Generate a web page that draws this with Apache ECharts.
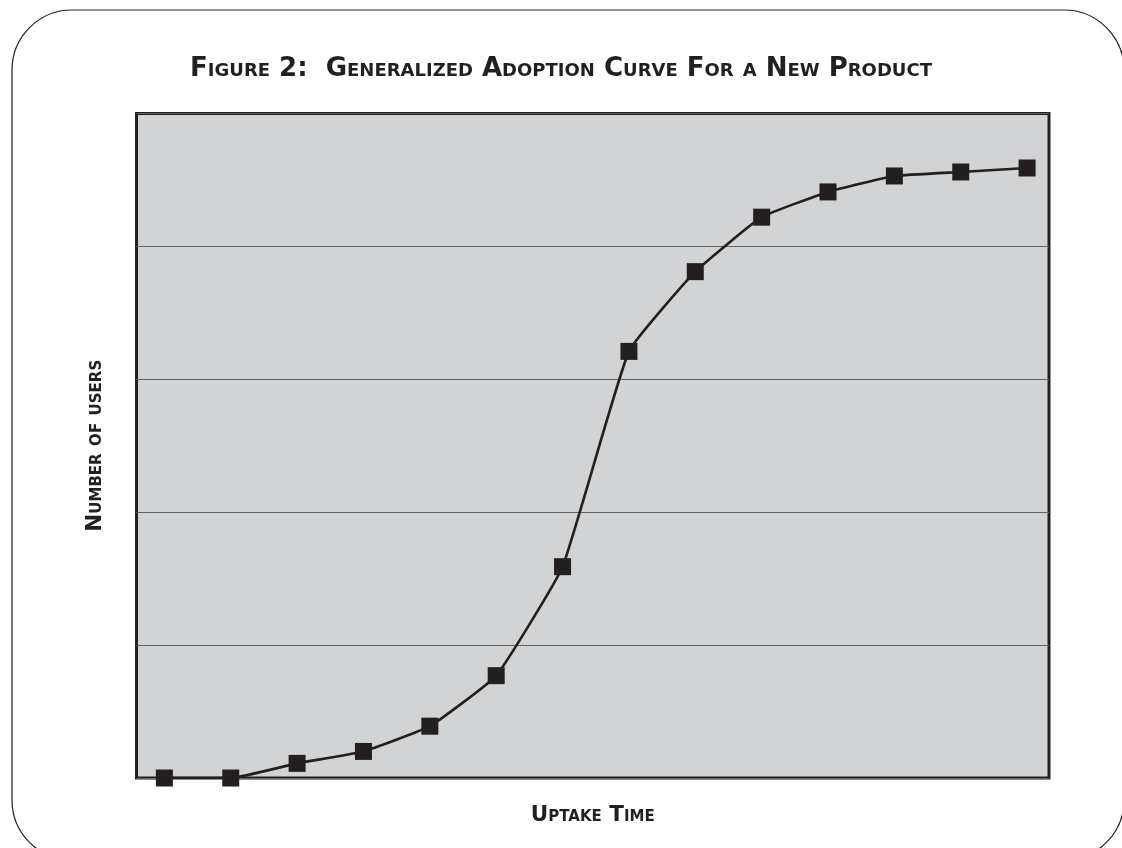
<!DOCTYPE html>
<html>
<head>
<meta charset="utf-8">
<title>Generalized Adoption Curve</title>
<script src="https://cdn.jsdelivr.net/npm/echarts@6/dist/echarts.min.js"></script>
<style>
  html, body { margin: 0; padding: 0; background: #ffffff; }
  #chart { width: 1122px; height: 848px; }
</style>
</head>
<body>
<div id="chart"></div>
<script>
// Time periods along the uptake axis
const periods = [1, 2, 3, 4, 5, 6, 7, 8, 9, 10, 11, 12, 13, 14];
// Cumulative number of users in each period (arbitrary units, axis 0-5)
const users = [0, 0, 0.11, 0.20, 0.39, 0.77, 1.59, 3.21, 3.81, 4.22, 4.41, 4.53, 4.56, 4.59];

const titleText = 'Figure 2:  Generalized Adoption Curve For a New Product';
const xName = 'Uptake Time';
const yName = 'Number of users';

const ink = '#231f20';
const fontFam = '"DejaVu Sans", "Open Sans", sans-serif';

const chart = echarts.init(document.getElementById('chart'), null, { renderer: 'canvas' });

chart.setOption({
  backgroundColor: '#ffffff',
  animation: false,
  title: {
    text: titleText,
    left: 'center',
    top: 51,
    textStyle: {
      color: ink,
      fontFamily: fontFam,
      fontStyle: 'small-caps',
      fontWeight: 'bold',
      fontSize: 26
    }
  },
  graphic: [{
    type: 'rect',
    silent: true,
    z: -1,
    shape: { x: 12, y: 10, width: 1112, height: 850, r: 60 },
    style: { fill: 'none', stroke: ink, lineWidth: 1.2 }
  }],
  grid: {
    show: true,
    left: 136.5,
    right: 73,
    top: 113.5,
    bottom: 70,
    backgroundColor: '#d1d3d4',
    borderColor: ink,
    borderWidth: 3
  },
  xAxis: {
    type: 'value',
    min: 0.58,
    max: 14.33,
    name: xName,
    nameLocation: 'middle',
    nameGap: 26,
    nameTextStyle: {
      color: ink,
      fontFamily: fontFam,
      fontStyle: 'small-caps',
      fontWeight: 'bold',
      fontSize: 21.5
    },
    axisLine: { show: false },
    axisTick: { show: false },
    axisLabel: { show: false },
    splitLine: { show: false }
  },
  yAxis: {
    type: 'value',
    min: 0,
    max: 5,
    interval: 1,
    name: yName,
    nameLocation: 'middle',
    nameGap: 30,
    nameTextStyle: {
      color: ink,
      fontFamily: fontFam,
      fontStyle: 'small-caps',
      fontWeight: 'bold',
      fontSize: 21.5
    },
    axisLine: { show: false },
    axisTick: { show: false },
    axisLabel: { show: false },
    splitLine: { show: true, lineStyle: { color: '#5f6062', width: 1.2 } }
  },
  series: [{
    type: 'line',
    data: periods.map((p, i) => [p, users[i]]),
    smooth: 0.12,
    symbol: 'rect',
    symbolSize: 17,
    showSymbol: true,
    itemStyle: { color: ink, borderWidth: 0 },
    lineStyle: { color: ink, width: 2.6 },
    z: 3
  }]
});
</script>
</body>
</html>
